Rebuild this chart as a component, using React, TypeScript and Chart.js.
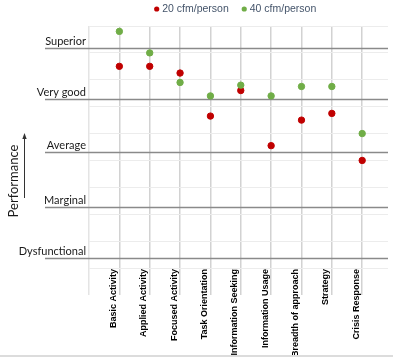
import React, { useEffect, useRef } from 'react';
import { Chart, registerables } from 'chart.js';

Chart.register(...registerables);

const categories = [
  'Basic Activity',
  'Applied Activity',
  'Focused Activity',
  'Task Orientation',
  'Information Seeking',
  'Information Usage',
  'Breadth of approach',
  'Strategy',
  'Crisis Response',
];
const seriesNames = ['20 cfm/person', '40 cfm/person'];
const cfm20 = [7.5, 7.5, 7.25, 5.65, 6.6, 4.55, 5.5, 5.75, 4.0];
const cfm40 = [8.8, 8.0, 6.9, 6.4, 6.8, 6.4, 6.75, 6.75, 5.0];
const levelLabels = ['Superior', 'Very good', 'Average', 'Marginal', 'Dysfunctional'];
const levelValues = [8.2, 6.3, 4.33, 2.28, 0.36];
const axisTitle = 'Performance';

const RED = '#C00000';
const GREEN = '#70AD47';

const overlay = {
  id: 'overlay',
  beforeDatasetsDraw(chart: any) {
    const { ctx, chartArea, scales } = chart;
    const y = scales.y;
    ctx.save();
    levelValues.forEach((v, i) => {
      const py = Math.round(y.getPixelForValue(v)) + 0.5;
      ctx.strokeStyle = '#8a8a8a';
      ctx.lineWidth = 1.5;
      ctx.beginPath();
      ctx.moveTo(45, py);
      ctx.lineTo(chartArea.right, py);
      ctx.stroke();
      ctx.fillStyle = '#1a1a1a';
      ctx.font = '11px Lato';
      ctx.textAlign = 'right';
      ctx.textBaseline = 'alphabetic';
      ctx.fillText(levelLabels[i], 86, py - 4);
    });
    ctx.restore();
  },
  afterDraw(chart: any) {
    const { ctx } = chart;
    ctx.save();
    // axis title
    ctx.translate(14, 181);
    ctx.rotate(-Math.PI / 2);
    ctx.fillStyle = '#1a1a1a';
    ctx.font = '13px Lato';
    ctx.textAlign = 'center';
    ctx.textBaseline = 'middle';
    ctx.fillText(axisTitle, 0, 0);
    ctx.restore();

    // arrow
    ctx.save();
    ctx.strokeStyle = '#333';
    ctx.fillStyle = '#333';
    ctx.lineWidth = 1;
    ctx.beginPath();
    ctx.moveTo(24.5, 198);
    ctx.lineTo(24.5, 137);
    ctx.stroke();
    ctx.beginPath();
    ctx.moveTo(24.5, 133);
    ctx.lineTo(22.3, 139);
    ctx.lineTo(26.7, 139);
    ctx.closePath();
    ctx.fill();
    ctx.restore();

    // legend
    ctx.save();
    ctx.font = '10.5px "Liberation Sans", Arial';
    ctx.textBaseline = 'middle';
    ctx.textAlign = 'left';
    const colors = [RED, GREEN];
    let x = 156.7;
    seriesNames.forEach((name, i) => {
      ctx.fillStyle = colors[i];
      ctx.beginPath();
      ctx.arc(x, 9, 2.6, 0, Math.PI * 2);
      ctx.fill();
      ctx.fillStyle = '#44546A';
      const tx = x + 5.5;
      ctx.fillText(name, tx, 9.5);
      x = tx + ctx.measureText(name).width + 15.5;
    });
    ctx.restore();

    // bottom frame line
    ctx.save();
    ctx.strokeStyle = '#dcdcdc';
    ctx.lineWidth = 2;
    ctx.beginPath();
    ctx.moveTo(0, 356);
    ctx.lineTo(393, 356);
    ctx.stroke();
    ctx.restore();
  },
};

export default function App() {
  const ref = useRef<HTMLCanvasElement | null>(null);
  useEffect(() => {
    if (!ref.current) return;
    const chart = new Chart(ref.current, {
      type: 'scatter',
      data: {
        datasets: [
          {
            label: seriesNames[0],
            data: cfm20.map((v, i) => ({ x: i + 1, y: v })),
            backgroundColor: RED,
            borderColor: RED,
            pointRadius: 3.2,
            borderWidth: 1,
            order: 1,
          },
          {
            label: seriesNames[1],
            data: cfm40.map((v, i) => ({ x: i + 1, y: v })),
            backgroundColor: GREEN,
            borderColor: GREEN,
            pointRadius: 3.2,
            borderWidth: 1,
            order: 0,
          },
        ],
      },
      options: {
        animation: false,
        responsive: false,
        layout: { padding: { top: 26, right: 3, left: 0, bottom: 0 } },
        plugins: { legend: { display: false }, tooltip: { enabled: false } },
        scales: {
          x: {
            type: 'linear',
            min: 0,
            max: 9.85,
            afterBuildTicks: (s: any) => {
              s.ticks = [0, ...categories.map((_, i) => i + 1)].map((v) => ({ value: v }));
            },
            afterFit: (s: any) => {
              s.height = 90;
            },
            grid: {
              color: (c: any) => (c.tick && c.tick.value === 0 ? '#e4e4e4' : '#d2d2d2'),
              lineWidth: 1.5,
              drawTicks: true,
              tickLength: 27,
            },
            border: { display: false },
            ticks: {
              autoSkip: false,
              minRotation: 90,
              maxRotation: 90,
              padding: -26,
              labelOffset: -6,
              color: '#000',
              font: { family: '"Liberation Sans", Arial', size: 9, weight: 'bold' },
              callback: (v: any) => categories[Number(v) - 1] ?? '',
            },
          },
          y: {
            min: 0,
            max: 9,
            ticks: { display: false, stepSize: 1 },
            afterFit: (s: any) => {
              s.width = 89;
            },
            grid: { color: '#ececec', lineWidth: 1, drawTicks: false },
            border: { display: false },
          },
        },
      },
      plugins: [overlay],
    } as any);
    return () => chart.destroy();
  }, []);
  return (
    <div style={{ position: 'absolute', left: 0, top: 0, width: 393, height: 358 }}>
      <canvas ref={ref} width={393} height={358} />
    </div>
  );
}
